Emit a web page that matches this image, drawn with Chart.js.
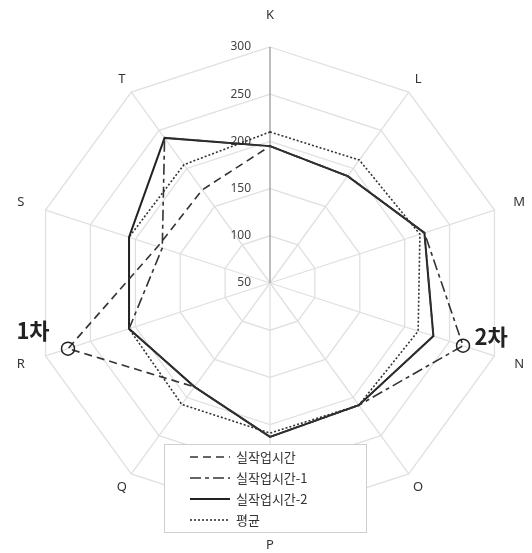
<!DOCTYPE html>
<html><head><meta charset="utf-8">
<script src="https://cdn.jsdelivr.net/npm/chart.js@4/dist/chart.umd.min.js"></script>
<style>html,body{margin:0;padding:0;background:#fff}#wrap{width:532px;height:553px;position:relative}canvas{display:block}</style>
</head><body><div id="wrap"><canvas id="c" width="532" height="553"></canvas></div>
<script>
const categories = ['K','L','M','N','O','P','Q','R','S','T'];
const seriesNames = ['실작업시간','실작업시간-1','실작업시간-2','평균'];
const actual  = [195,190,222,232,210,213,186,275,175,172];
const actual1 = [195,190,222,265,210,213,186,207,170,240];
const actual2 = [195,190,222,232,210,213,186,207,207,240];
const average = [210,211,217,215,210,209,209,207,207,205];
const tickValues = [50,100,150,200,250,300];
const notes = [{text:'1차', series:0, index:7, dx:-35, dy:-18}, {text:'2차', series:1, index:3, dx:28, dy:-9}];

const dashes = [[8,5],[11,4,4,4],[],[2,2]];
const widths = [1.6,1.6,2,1.6];
const colors = ['#333','#333','#222','#333'];
const seriesData = [actual, actual1, actual2, average];
const labelGap = [32, 16, 26, 26, 16, 26, 16, 26, 26, 16];

function markerRadius(s){
  return categories.map((c,i)=> notes.some(n=>n.series===s && n.index===i) ? 6.5 : 0);
}

const datasets = seriesData.map((d,s)=>({
  label: seriesNames[s],
  data: d,
  borderColor: colors[s],
  borderWidth: widths[s],
  borderDash: dashes[s],
  backgroundColor: 'rgba(0,0,0,0)',
  fill: false,
  pointRadius: markerRadius(s),
  pointBackgroundColor: 'rgba(255,255,255,0)',
  pointBorderColor: '#222',
  pointBorderWidth: 1.5,
  tension: 0
}));

const fontCJK = "'Noto Sans CJK KR','Noto Sans',sans-serif";

const labelPlugin = {
  id: 'labelPlugin',
  beforeDatasetsDraw(chart){
    const ctx = chart.ctx; const sc = chart.scales.r;
    ctx.save();
    ctx.fillStyle = '#444';
    ctx.font = "12px 'Noto Sans', sans-serif";
    ctx.textAlign = 'right'; ctx.textBaseline = 'middle';
    tickValues.forEach(v=>{
      const d = sc.getDistanceFromCenterForValue(v);
      ctx.fillText(String(v), sc.xCenter - 19, sc.yCenter - d);
    });
    ctx.fillStyle = '#333';
    ctx.font = "13px 'Noto Sans', sans-serif";
    ctx.textAlign = 'center';
    categories.forEach((c,i)=>{
      const p = sc.getPointPosition(i, sc.drawingArea + labelGap[i]);
      ctx.fillText(c, p.x, p.y);
    });
    ctx.restore();
  },
  afterDraw(chart){
    const ctx = chart.ctx;
    ctx.save();
    ctx.fillStyle = '#222';
    ctx.font = "bold 22px " + fontCJK;
    ctx.textAlign = 'center'; ctx.textBaseline = 'middle';
    notes.forEach(n=>{
      const el = chart.getDatasetMeta(n.series).data[n.index];
      ctx.fillText(n.text, el.x + n.dx, el.y + n.dy);
    });
    const bx = 164.5, by = 444.5, bw = 202, bh = 88;
    ctx.fillStyle = '#fff';
    ctx.fillRect(bx, by, bw, bh);
    ctx.strokeStyle = '#cfcfcf'; ctx.lineWidth = 1;
    ctx.strokeRect(bx, by, bw, bh);
    const rows = [457, 478, 499, 520];
    ctx.font = "13px " + fontCJK;
    ctx.textAlign = 'left'; ctx.textBaseline = 'middle';
    seriesNames.forEach((name,s)=>{
      const y = rows[s];
      ctx.beginPath();
      ctx.setLineDash(dashes[s]);
      ctx.strokeStyle = colors[s]; ctx.lineWidth = widths[s];
      ctx.moveTo(190, y); ctx.lineTo(230, y); ctx.stroke();
      ctx.setLineDash([]);
      ctx.fillStyle = '#333';
      ctx.fillText(name, 236, y);
    });
    ctx.restore();
  }
};

new Chart(document.getElementById('c').getContext('2d'), {
  type: 'radar',
  data: { labels: categories, datasets },
  options: {
    responsive: false, animation: false,
    layout: { padding: { left: 34, right: 26, top: 47, bottom: 34 } },
    plugins: { legend: { display: false }, tooltip: { enabled: false } },
    elements: { line: { borderJoinStyle: 'miter' } },
    scales: { r: {
      min: 50, max: 300,
      ticks: { display: false, stepSize: 50 },
      grid: { color: '#e0e0e0', lineWidth: 1.3 },
      angleLines: { color: c => c.index === 0 ? '#9a9a9a' : '#e0e0e0', lineWidth: 1.3 },
      pointLabels: { display: false }
    } }
  },
  plugins: [labelPlugin]
});
</script></body></html>
